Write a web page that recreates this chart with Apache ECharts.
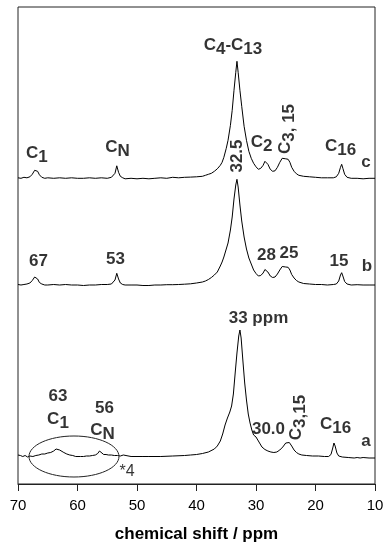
<!DOCTYPE html>
<html><head><meta charset="utf-8">
<script src="https://cdn.jsdelivr.net/npm/echarts@6/dist/echarts.min.js"></script>
<style>html,body{margin:0;padding:0;background:#fff}#c{width:392px;height:550px}</style>
</head><body><div id="c"></div>
<script>
// x ticks
const xTicks = [70, 60, 50, 40, 30, 20, 10];
// trace offsets (vertical stacking, arbitrary units)
const offsetA = 26, offsetB = 199, offsetC = 305.7;

// trace c: [ppm, intensity]
const traceC = [[70,0.5],[69.5,0],[69,1],[68.5,0.5],[68,1.5],[67.6,4],[67.2,8],[67.0,9],[66.7,7],[66.4,3.5],[66.0,1],[65.5,0],[65,0.5],[64,0],[63,0.5],[62,0],[61,0.5],[60,0],[59,0],[58,0.5],[57,0],[56,0.5],[55,0],[54.3,1],[54,2],[53.7,5],[53.4,12.5],[53.1,6],[52.8,2],[52.4,0.5],[52,-0.5],[51,0],[50,-0.5],[49,0],[48,-0.5],[47,0],[46,0.5],[45,0],[44,1],[43,0.5],[42,1],[41,1.2],[40,1.5],[39,2],[38.5,3],[38,4],[37.5,5],[37,7],[36.5,9.5],[36,13],[35.7,16],[35.4,21],[35.0,30],[34.7,38],[34.3,53],[34.0,68],[33.7,88],[33.4,106],[33.2,117],[33.0,106],[32.7,88],[32.4,72],[32.0,52],[31.6,38],[31.2,27],[30.8,20],[30.4,15],[30.0,11.5],[29.6,9],[29.2,10],[28.8,13],[28.5,17],[28.3,18.5],[28.0,14],[27.6,9],[27.2,7],[26.8,7.5],[26.4,11],[26.0,16],[25.6,20],[25.3,21],[25.0,19.5],[24.6,19],[24.3,16],[24.0,11],[23.6,7],[23.2,4.5],[22.8,3],[22,2],[21,1.5],[20,1],[19,0.5],[18,0.5],[17,0.5],[16.5,1.5],[16.1,5],[15.8,11],[15.6,14],[15.4,10],[15.1,4],[14.7,1],[14,0],[13,0],[12,-0.5],[11,0],[10,0]];

// trace b
const traceB = [[70,0.5],[69.5,0],[69,0.5],[68.5,1],[68,2],[67.6,4.5],[67.2,8],[67.0,8.3],[66.7,6],[66.4,2.5],[66.0,1],[65.5,0],[65,0],[64,0.5],[63,0],[62,0.5],[61,0],[60,0],[59,-0.5],[58,0],[57,0],[56,0.5],[55,0.5],[54.3,1],[54,2],[53.7,5],[53.4,11.7],[53.1,6],[52.8,2],[52.4,0.5],[52,0],[51,0],[50,0],[49,-0.5],[48,-0.5],[47,0],[46,0],[45,0.3],[44,0.3],[43,0.5],[42,0.8],[41,1.2],[40,2],[39,3],[38.5,4],[38,5.5],[37.5,7.5],[37,10],[36.5,13],[36,19],[35.7,23],[35.4,28],[35.0,36],[34.7,42],[34.3,55],[34.0,68],[33.7,86],[33.4,100],[33.2,105.7],[33.0,98],[32.7,80],[32.4,64],[32.0,48],[31.6,36],[31.2,27],[30.8,21],[30.4,15],[30.0,11.5],[29.6,9],[29.2,9.5],[28.8,12],[28.5,15.5],[28.3,16.7],[28.0,13],[27.6,9],[27.2,7.5],[26.8,8],[26.4,11],[26.0,15],[25.6,18.5],[25.3,19],[25.0,18],[24.6,17.7],[24.3,15],[24.0,10.5],[23.6,7],[23.2,4.5],[22.8,3],[22,1.5],[21,1],[20,0.5],[19,0.5],[18,0],[17,0.5],[16.5,1],[16.1,4],[15.8,10],[15.6,12.3],[15.4,9],[15.1,3.5],[14.7,1],[14,0],[13,0.3],[12,0],[11,0],[10,0]];

// trace a
const traceA = [[70,3],[69.6,2.5],[69.2,1.5],[68.8,2.5],[68.4,1],[68,2],[67.5,1.5],[67,2.5],[66.5,3],[66,4],[65.5,4],[65,5],[64.5,5.5],[64,7],[63.6,9],[63.3,9.5],[63,8],[62.7,6.5],[62.3,5.5],[61.8,4],[61.3,3],[60.8,2.5],[60.3,1.5],[60,1],[59.5,1.5],[59,1.5],[58.5,2],[58,2],[57.5,2.5],[57,3],[56.6,4.5],[56.3,7],[56,5],[55.6,3.5],[55.2,3.5],[54.8,3],[54.3,3],[53.8,2.5],[53.3,2.5],[52.8,2],[52.3,3],[52,1.5],[51,1.5],[50,1.5],[49,1.5],[48,1.5],[46,1.5],[44,2],[42,2.5],[41,3],[40,3.5],[39,4.5],[38,6],[37,9],[36.5,12],[36,17],[35.6,24],[35.2,33],[34.8,40],[34.4,46],[34.1,52],[33.8,64],[33.5,85],[33.2,105],[32.9,122],[32.7,128],[32.5,120],[32.2,97],[31.9,75],[31.6,58],[31.3,44],[31.0,35],[30.7,28],[30.4,23],[30.0,21],[29.7,19],[29.4,15],[29.0,11],[28.5,8.5],[28.0,7],[27.5,6],[27.0,5.5],[26.5,6],[26.0,8],[25.5,11],[25.0,15],[24.7,16.5],[24.4,15.5],[24.0,12],[23.6,8],[23.2,5.5],[22.8,4],[22.3,3],[21.5,2.5],[20.5,2],[19.5,2],[18.5,1.5],[17.8,1.5],[17.4,3.5],[17.1,10],[16.9,15],[16.7,12],[16.4,5],[16.1,2],[15.5,1],[14.5,0.5],[13.5,0],[13,0.5],[12.5,0],[12,0.5],[11,0],[10,0]];

// annotations: [ppm, y, rich text, rotate]
const notes = [
  [66.82, 330.5, '{n|C}{s|1}', 0],
  [53.28, 337, '{n|C}{s|N}', 0],
  [33.87, 438.8, '{n|C}{s|4}{n|-C}{s|13}', 0],
  [29.04, 341.7, '{n|C}{s|2}', 0],
  [25.13, 355, '{n|C}{s|3, 15}', 90],
  [15.80, 337.5, '{n|C}{s|16}', 0],
  [11.51, 321.6, '{n|c}', 0],
  [33.11, 328, '{n|32.5}', 90],
  [66.55, 223, '{n|67}', 0],
  [53.61, 224.5, '{n|53}', 0],
  [28.23, 228.5, '{n|28}', 0],
  [24.45, 230.5, '{n|25}', 0],
  [16.05, 223, '{n|15}', 0],
  [11.34, 217.5, '{n|b}', 0],
  [29.58, 166, '{n|33 ppm}', 0],
  [63.28, 88, '{n|63}', 0],
  [63.28, 64.2, '{n|C}{s|1}', 0],
  [55.46, 76, '{n|56}', 0],
  [55.80, 54, '{n|C}{s|N}', 0],
  [27.90, 54.5, '{n|30.0}', 0],
  [23.28, 66.5, '{n|C}{s|3,15}', 90],
  [16.64, 59.5, '{n|C}{s|16}', 0],
  [11.51, 42.6, '{n|a}', 0],
  [51.68, 12, '{r|*4}', 0]
];
// ellipse around the magnified region: [ppm centre, y centre, ppm half-width, y half-height]
const ellipseSpec = [60.59, 27.5, 7.56, 20.5];

const FONT = '"Liberation Sans", Arial, sans-serif';
const base = {fontFamily: FONT, color: '#000', fontSize: 17, fontWeight: 'bold'};
const rich = {
  n: Object.assign({}, base, {lineHeight: 17, verticalAlign: 'top'}),
  s: Object.assign({}, base, {lineHeight: 17, verticalAlign: 'top', padding: [4, 0, 0, 0]}),
  r: Object.assign({}, base, {fontWeight: 'normal', fontSize: 16, lineHeight: 17})
};

function shift(tr, off) { return tr.map(p => [p[0], p[1] + off]); }

const chart = echarts.init(document.getElementById('c'), null, {renderer: 'canvas'});
const lineStyle = {color: '#000', width: 1};
chart.setOption({
  animation: false,
  backgroundColor: '#fff',
  grid: {left: 18, right: 17, top: 7, bottom: 66, show: true, borderColor: '#222', borderWidth: 1},
  xAxis: {
    type: 'value', min: 10, max: 70, interval: 10, inverse: true,
    axisLine: {show: true, lineStyle: {color: '#222', width: 1}},
    axisTick: {show: true, length: 7, lineStyle: {color: '#222', width: 1}},
    axisLabel: {fontSize: 15, color: '#000', fontFamily: FONT, margin: 14,
      formatter: v => xTicks.indexOf(v) >= 0 ? String(v) : ''},
    splitLine: {show: false},
    name: 'chemical shift / ppm', nameLocation: 'middle', nameGap: 42,
    nameTextStyle: {fontSize: 17, fontWeight: 'bold', color: '#000', fontFamily: FONT}
  },
  yAxis: {type: 'value', min: 0, max: 477, show: false},
  series: [
    {type: 'line', data: shift(traceC, offsetC), showSymbol: false, lineStyle, silent: true},
    {type: 'line', data: shift(traceB, offsetB), showSymbol: false, lineStyle, silent: true},
    {type: 'line', data: shift(traceA, offsetA), showSymbol: false, lineStyle, silent: true},
    {type: 'scatter', symbolSize: 1, itemStyle: {color: 'rgba(0,0,0,0)'}, z: 10,
      data: notes.map(n => ({value: [n[0], n[1]], label: {show: true, position: 'inside',
        formatter: n[2], rotate: n[3], rich: rich, align: 'center', verticalAlign: 'middle'}})),
      label: {show: true}}
  ]
});
const c0 = chart.convertToPixel({gridIndex: 0}, [ellipseSpec[0], ellipseSpec[1]]);
const c1 = chart.convertToPixel({gridIndex: 0}, [ellipseSpec[0] - ellipseSpec[2], ellipseSpec[1] + ellipseSpec[3]]);
chart.setOption({graphic: [{type: 'ellipse', z: 20,
  shape: {cx: c0[0], cy: c0[1], rx: Math.abs(c1[0] - c0[0]), ry: Math.abs(c1[1] - c0[1])},
  style: {fill: 'none', stroke: '#222', lineWidth: 1}}]});
</script></body></html>
